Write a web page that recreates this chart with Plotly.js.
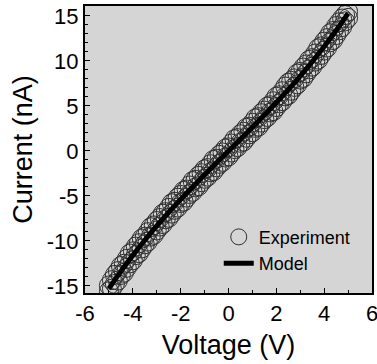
<!DOCTYPE html>
<html>
<head>
<meta charset="utf-8">
<script src="https://cdn.plot.ly/plotly-3.0.1.min.js"></script>
<style>
  html, body { margin: 0; padding: 0; background: #ffffff; }
  #chart { width: 377px; height: 364px; }
</style>
</head>
<body>
<div id="chart"></div>
<script>
// Experiment: voltage (V), shared by both sweeps
const expVoltage = [
  -5, -4.875, -4.75, -4.625, -4.5, -4.375, -4.25, -4.125,
  -4, -3.875, -3.75, -3.625, -3.5, -3.375, -3.25, -3.125,
  -3, -2.875, -2.75, -2.625, -2.5, -2.375, -2.25, -2.125,
  -2, -1.875, -1.75, -1.625, -1.5, -1.375, -1.25, -1.125,
  -1, -0.875, -0.75, -0.625, -0.5, -0.375, -0.25, -0.125,
  0, 0.125, 0.25, 0.375, 0.5, 0.625, 0.75, 0.875,
  1, 1.125, 1.25, 1.375, 1.5, 1.625, 1.75, 1.875,
  2, 2.125, 2.25, 2.375, 2.5, 2.625, 2.75, 2.875,
  3, 3.125, 3.25, 3.375, 3.5, 3.625, 3.75, 3.875,
  4, 4.125, 4.25, 4.375, 4.5, 4.625, 4.75, 4.875, 5
];
// Experiment current (nA), upper sweep
const expCurrentUp = [
  -14.94, -14.35, -13.77, -13.35, -12.78, -12.53, -11.98, -11.39,
  -11.15, -10.62, -10.25, -9.73, -9.52, -9.02, -8.47, -8.27,
  -7.78, -7.45, -6.97, -6.79, -6.32, -5.81, -5.64, -5.19,
  -4.88, -4.43, -4.28, -3.83, -3.34, -3.20, -2.76, -2.47,
  -2.04, -1.90, -1.47, -0.99, -0.86, -0.43, -0.16, 0.27,
  0.40, 0.83, 1.31, 1.43, 1.86, 2.14, 2.57, 2.70,
  3.14, 3.62, 3.76, 4.20, 4.49, 4.93, 5.08, 5.53,
  6.03, 6.19, 6.64, 7.16, 7.57, 7.79, 8.07, 8.60,
  8.78, 9.27, 9.62, 10.12, 10.32, 10.83, 11.40, 11.62,
  12.15, 12.54, 13.08, 13.33, 13.88, 14.30, 14.72, 15.10, 15.49
];
// Experiment current (nA), lower sweep
const expCurrentDown = [
  -15.59, -15.30, -14.77, -14.40, -13.78, -13.53, -12.98, -12.49,
  -12.15, -11.57, -11.35, -10.83, -10.37, -10.07, -9.52, -9.32,
  -8.83, -8.40, -8.12, -7.59, -7.42, -6.96, -6.54, -6.29,
  -5.78, -5.63, -5.18, -4.78, -4.54, -4.05, -3.91, -3.47,
  -3.09, -2.85, -2.37, -2.24, -1.81, -1.43, -1.21, -0.73,
  -0.60, -0.17, 0.21, 0.43, 0.91, 1.04, 1.47, 1.85,
  2.09, 2.57, 2.71, 3.15, 3.54, 3.78, 4.28, 4.43,
  4.88, 5.29, 5.54, 6.06, 6.22, 6.69, 7.12, 7.40,
  7.93, 8.12, 8.62, 9.07, 9.37, 9.93, 10.15, 10.67,
  11.15, 11.49, 12.08, 12.33, 12.88, 13.40, 13.77, 14.40, 14.79
];
// Model curve
const modelVoltage = [-5, -4.5, -4, -3.5, -3, -2.5, -2, -1.5, -1, -0.5, 0,
                      0.5, 1, 1.5, 2, 2.5, 3, 3.5, 4, 4.5, 5];
const modelCurrent = [-15.29, -13.38, -11.60, -9.92, -8.33, -6.82, -5.38, -3.99, -2.64, -1.31, 0,
                      1.31, 2.64, 3.99, 5.38, 6.82, 8.33, 9.92, 11.60, 13.38, 15.29];
// Tick labels
const xTickVals = [-6, -4, -2, 0, 2, 4, 6];
const xTickText = ['-6', '-4', '-2', '0', '2', '4', '6'];
const yTickVals = [-15, -10, -5, 0, 5, 10, 15];
const yTickText = ['-15', '-10', '-5', '0', '5', '10', '15'];
const seriesNames = ['Experiment', 'Model'];

const FONT = 'Liberation Sans, Arial, Helvetica, sans-serif';

// interleave the two sweeps into one marker trace
const ex = [], ey = [];
for (let i = 0; i < expVoltage.length; i++) {
  ex.push(expVoltage[i]); ey.push(expCurrentDown[i]);
  ex.push(expVoltage[i]); ey.push(expCurrentUp[i]);
}

const traces = [
  {
    x: ex, y: ey, name: seriesNames[0],
    type: 'scatter', mode: 'markers',
    marker: { symbol: 'circle-open', size: 19, color: '#303030',
              line: { color: '#303030', width: 1 } }
  },
  {
    x: modelVoltage, y: modelCurrent, name: seriesNames[1],
    type: 'scatter', mode: 'lines',
    line: { color: '#000000', width: 5, shape: 'spline' }
  }
];

const axisCommon = {
  showgrid: false, zeroline: false,
  showline: true, linecolor: '#000', linewidth: 2, mirror: true,
  ticks: 'inside', ticklen: 5, tickwidth: 1, tickcolor: '#000',
  tickfont: { family: FONT, size: 22, color: '#000' },
  tickmode: 'array', ticklabeloverflow: 'allow'
};

const layout = {
  width: 377, height: 364,
  margin: { l: 85, r: 5, t: 6, b: 71 },
  paper_bgcolor: '#ffffff',
  plot_bgcolor: '#d5d5d5',
  showlegend: true,
  legend: {
    x: 0.466, y: 0.259, xanchor: 'left', yanchor: 'top',
    bgcolor: 'rgba(0,0,0,0)',
    font: { family: FONT, size: 18, color: '#000' },
    itemwidth: 30, tracegroupgap: 0
  },
  xaxis: Object.assign({}, axisCommon, {
    range: [-6, 6], tickvals: xTickVals, ticktext: xTickText,
    minor: { ticks: 'inside', ticklen: 3, tickwidth: 1, tickcolor: '#000', dtick: 1 },
    title: { text: 'Voltage (V)', font: { family: FONT, size: 27, color: '#000' }, standoff: 10 }
  }),
  yaxis: Object.assign({}, axisCommon, {
    range: [-15.78, 16.11], tickvals: yTickVals, ticktext: yTickText,
    minor: { ticks: 'inside', ticklen: 3, tickwidth: 1, tickcolor: '#000', dtick: 1 },
    title: { text: 'Current (nA)', font: { family: FONT, size: 27, color: '#000' }, standoff: 6 }
  })
};

Plotly.newPlot('chart', traces, layout, { displayModeBar: false, staticPlot: true });
</script>
</body>
</html>
